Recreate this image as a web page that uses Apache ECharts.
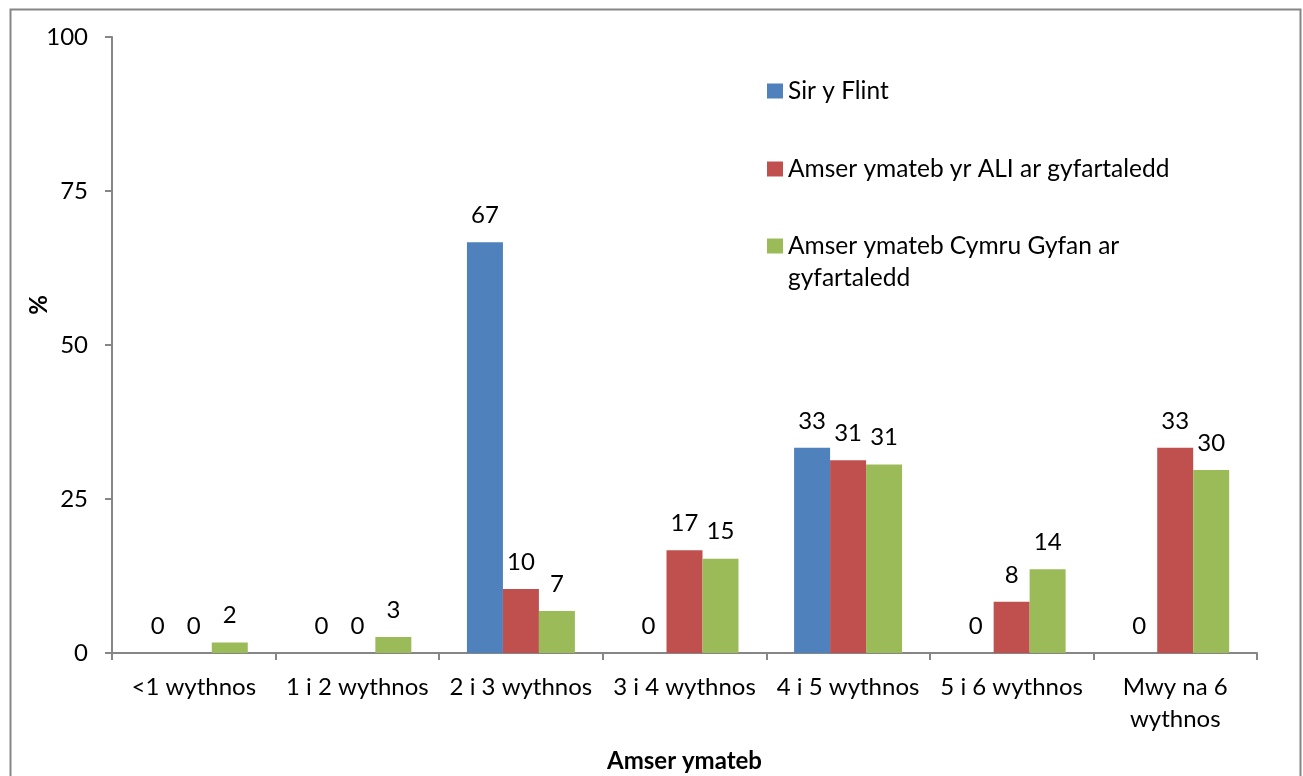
<!DOCTYPE html>
<html>
<head>
<meta charset="utf-8">
<script src="https://cdn.jsdelivr.net/npm/echarts@6/dist/echarts.min.js"></script>
<style>
  html, body { margin: 0; padding: 0; background: #fff; }
  #chart { width: 1303px; height: 776px; }
</style>
</head>
<body>
<div id="chart"></div>
<script>
// categories along the x axis
const categories = ['<1 wythnos', '1 i 2 wythnos', '2 i 3 wythnos', '3 i 4 wythnos', '4 i 5 wythnos', '5 i 6 wythnos', 'Mwy na 6 wythnos'];
// series names
const seriesNames = ['Sir y Flint', 'Amser ymateb yr ALI ar gyfartaledd', 'Amser ymateb Cymru Gyfan ar gyfartaledd'];
// series values (%)
const sirYFlint = [0, 0, 66.7, 0, 33.3, 0, 0];
const aliAverage = [0, 0, 10.4, 16.7, 31.3, 8.3, 33.3];
const walesAverage = [1.7, 2.6, 6.8, 15.3, 30.6, 13.6, 29.7];
// y axis ticks
const yTicks = [0, 25, 50, 75, 100];

const FONT = 'Lato';
const FS = 24;
const colors = ['#4F81BD', '#C0504D', '#9BBB59'];

const chart = echarts.init(document.getElementById('chart'), null, { renderer: 'canvas' });

const labelCfg = {
    show: true,
    position: 'top',
    distance: 15,
    color: '#000',
    fontFamily: FONT,
    fontSize: FS,
    formatter: p => Math.round(p.value)
};

function makeSeries(name, data, color) {
    return {
        name: name,
        type: 'bar',
        data: data,
        barGap: '0%',
        barCategoryGap: '34%',
        itemStyle: { color: color },
        label: labelCfg
    };
}

// each legend item placed on its own, like the original
const legendBase = {
    orient: 'vertical',
    left: 762,
    itemWidth: 16,
    itemHeight: 15,
    icon: 'rect',
    textStyle: { fontFamily: FONT, fontSize: 24.5, color: '#000', lineHeight: 32 }
};

const option = {
    backgroundColor: '#fff',
    animation: false,
    color: colors,
    grid: { left: 112, right: 46, top: 37, bottom: 123, containLabel: false, outerBoundsMode: 'none' },
    legend: [
        { ...legendBase, top: 70, data: [seriesNames[0]] },
        { ...legendBase, top: 148, data: [seriesNames[1]] },
        {
            // leading blank line keeps the icon level with the first text line
            ...legendBase, top: 193, data: [seriesNames[2]],
            formatter: n => '\n' + n.replace(' gyfartaledd', '\ngyfartaledd')
        }
    ],
    xAxis: {
        type: 'category',
        data: categories,
        name: 'Amser ymateb',
        nameLocation: 'middle',
        nameGap: 96,
        nameMoveOverlap: false,
        nameTextStyle: { fontFamily: FONT, fontSize: FS, fontWeight: 'bold', color: '#000' },
        axisLine: { lineStyle: { color: '#868686', width: 2 } },
        axisTick: { show: true, length: 7, lineStyle: { color: '#868686', width: 2 } },
        axisLabel: {
            interval: 0,
            margin: 18,
            color: '#000',
            fontFamily: FONT,
            fontSize: FS,
            lineHeight: 32,
            formatter: v => v.length > 14 ? v.replace(/ (\S+)$/, '\n$1') : v
        }
    },
    yAxis: {
        type: 'value',
        min: yTicks[0],
        max: yTicks[yTicks.length - 1],
        interval: yTicks[1] - yTicks[0],
        name: '%',
        nameLocation: 'middle',
        nameGap: 61,
        nameMoveOverlap: false,
        nameTextStyle: { fontFamily: FONT, fontSize: FS, fontWeight: 'bold', color: '#000', padding: [0, 0, 0, 80] },
        axisLine: { show: true, lineStyle: { color: '#868686', width: 2 } },
        axisTick: { show: true, length: 7, lineStyle: { color: '#868686', width: 2 } },
        splitLine: { show: false },
        axisLabel: { margin: 24, color: '#000', fontFamily: FONT, fontSize: FS }
    },
    graphic: [
        {
            type: 'rect',
            left: 8,
            top: 7,
            shape: { width: 1290, height: 800 },
            style: { fill: 'none', stroke: '#868686', lineWidth: 2 },
            silent: true
        }
    ],
    series: [
        makeSeries(seriesNames[0], sirYFlint, colors[0]),
        makeSeries(seriesNames[1], aliAverage, colors[1]),
        makeSeries(seriesNames[2], walesAverage, colors[2])
    ]
};

chart.setOption(option);
</script>
</body>
</html>
